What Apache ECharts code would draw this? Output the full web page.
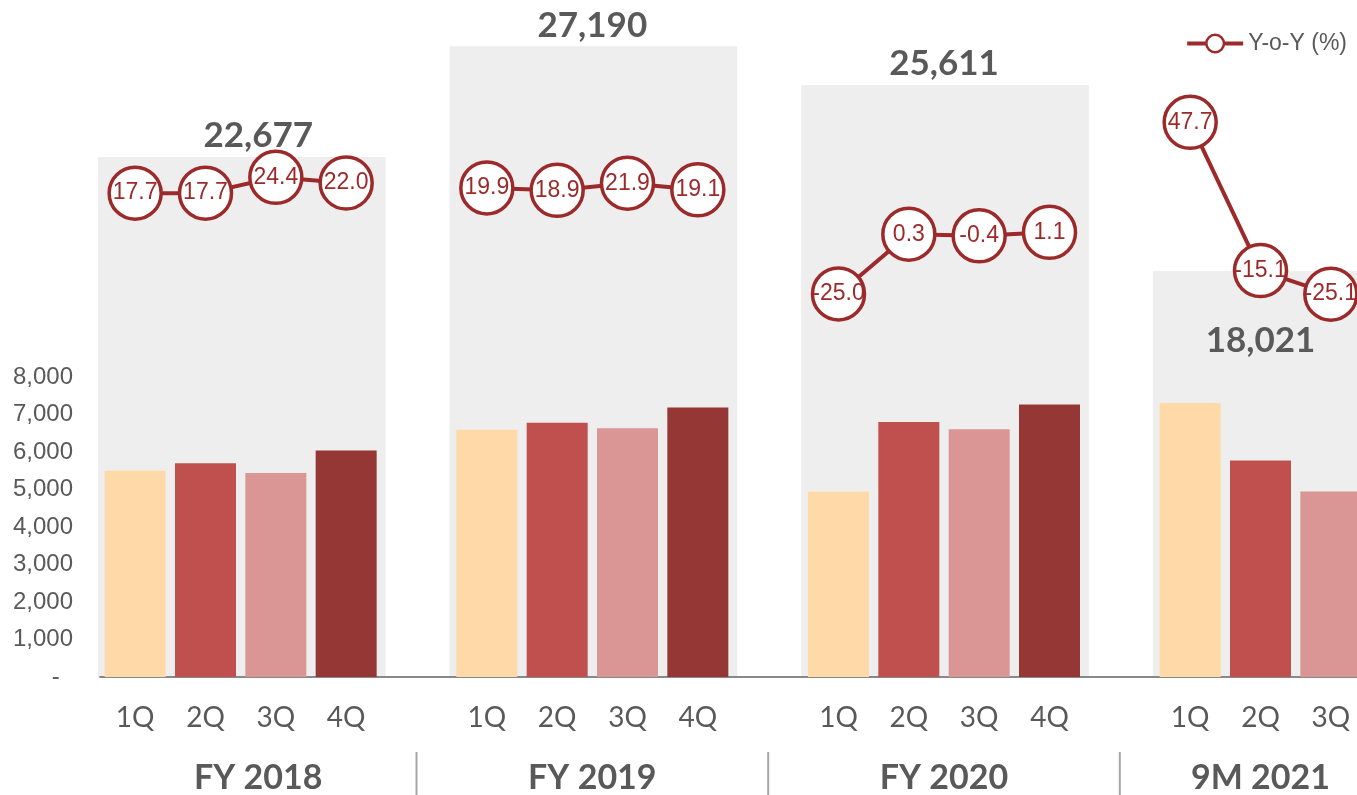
<!DOCTYPE html>
<html><head><meta charset="utf-8">
<script src="https://cdn.jsdelivr.net/npm/echarts@6/dist/echarts.min.js"></script>
<style>html,body{margin:0;padding:0;background:#fff}#c{width:1357px;height:795px}</style>
</head><body><div id="c"></div>
<script>
// ---- data ----
const groupNames = ['FY 2018', 'FY 2019', 'FY 2020', '9M 2021'];
const groupTotals = [22677, 27190, 25611, 18021];
const quarterLabels = ['1Q', '2Q', '3Q', '4Q'];
const fy2018 = [5500, 5700, 5440, 6037];
const fy2019 = [6595, 6777, 6631, 7190];
const fy2020 = [4946, 6797, 6604, 7269];
const m9y2021 = [7305, 5771, 4946];
const yoy2018 = [17.7, 17.7, 24.4, 22.0];
const yoy2019 = [19.9, 18.9, 21.9, 19.1];
const yoy2020 = [-25.0, 0.3, -0.4, 1.1];
const yoy2021 = [47.7, -15.1, -25.1];
const yTickMax = 8000, yTickStep = 1000;
const seriesName = 'Y-o-Y (%)';

// ---- styling ----
const quarterColors = ['#FFD9A7', '#C0504D', '#DA9694', '#953735'];
const lineColor = '#9C2A2A';
const textColor = '#595959';

// ---- build ----
const groupValues = [fy2018, fy2019, fy2020, m9y2021];
const groupYoy = [yoy2018, yoy2019, yoy2020, yoy2021];
const categories = [], barData = [], lineData = [], groupSpans = [];
groupValues.forEach((vals, g) => {
  if (g > 0) { categories.push(''); barData.push('-'); lineData.push('-'); }
  const start = categories.length;
  vals.forEach((v, q) => {
    categories.push(quarterLabels[q]);
    barData.push({ value: v, itemStyle: { color: quarterColors[q] } });
    lineData.push(groupYoy[g][q]);
  });
  groupSpans.push([start, categories.length - 1, groupTotals[g], g]);
});

const chart = echarts.init(document.getElementById('c'), null, { renderer: 'canvas' });
chart.setOption({
  animation: false,
  backgroundColor: '#ffffff',
  grid: { left: 100, width: 1266, top: 377, bottom: 118, containLabel: false, outerBoundsMode: 'none' },
  legend: {
    data: [seriesName], right: 10, top: 32, padding: 0, itemWidth: 56, itemHeight: 22,
    lineStyle: { width: 4, color: lineColor },
    itemStyle: { color: '#ffffff', borderColor: lineColor, borderWidth: 2.5 },
    textStyle: { color: textColor, fontSize: 23, fontFamily: 'Liberation Sans' }
  },
  xAxis: [{
    type: 'category', data: categories, boundaryGap: true,
    axisTick: { show: false },
    axisLine: { show: true, lineStyle: { color: '#888888', width: 2 } },
    axisLabel: { interval: 0, margin: 27, color: textColor, fontSize: 28, fontFamily: 'Lato' }
  }],
  yAxis: [{
    type: 'value', min: 0, max: yTickMax, interval: yTickStep,
    splitLine: { show: false }, axisLine: { show: false }, axisTick: { show: false },
    axisLabel: {
      margin: 27, color: textColor, fontSize: 24, fontFamily: 'Liberation Sans',
      formatter: v => v === 0 ? '-  ' : v.toLocaleString('en-US')
    }
  }, {
    type: 'value', show: false, min: 1460, max: 13700, splitLine: { show: false }
  }, {
    type: 'value', show: false, min: -187.3, max: -60.2, splitLine: { show: false }
  }],
  series: [{
    type: 'custom', xAxisIndex: 0, yAxisIndex: 1, z: 0, silent: true, clip: false,
    data: groupSpans,
    encode: { x: [0, 1], y: 2 },
    renderItem(params, api) {
      const s = api.value(0), e = api.value(1), total = api.value(2), g = api.value(3);
      const band = api.size([1, 0])[0];
      const pS = api.coord([s, total]), pE = api.coord([e, total]);
      const cs = params.coordSys;
      const bottom = cs.y + cs.height;
      const top = pS[1];
      const x0 = pS[0] - 0.53 * band, x1 = pE[0] + 0.56 * band;
      const lo = g === 0 ? pS[0] - band / 2 : pS[0] - band;
      const hi = pE[0] + band;
      const mid = (lo + hi) / 2;
      const last = g === groupTotals.length - 1;
      const children = [
        { type: 'rect', shape: { x: x0, y: top, width: x1 - x0, height: bottom - top }, style: { fill: '#EEEEEE' } },
        { type: 'text', style: { text: total.toLocaleString('en-US'), x: mid, y: last ? top + 70 : top - 21,
          align: 'center', verticalAlign: 'middle', font: 'bold 35px Lato', fill: textColor } },
        { type: 'text', style: { text: groupNames[g], x: mid, y: bottom + 101,
          align: 'center', verticalAlign: 'middle', font: 'bold 34px Lato', fill: textColor } }
      ];
      if (g > 0) {
        children.push({ type: 'line', shape: { x1: lo, y1: bottom + 75, x2: lo, y2: bottom + 125 },
          style: { stroke: '#A6A6A6', lineWidth: 2 } });
      }
      return { type: 'group', children };
    }
  }, {
    type: 'bar', xAxisIndex: 0, yAxisIndex: 0, z: 2, barWidth: 61, data: barData
  }, {
    type: 'line', name: seriesName, xAxisIndex: 0, yAxisIndex: 2, z: 5, clip: false,
    data: lineData, connectNulls: false,
    symbol: 'circle', symbolSize: 52,
    lineStyle: { color: lineColor, width: 4 },
    itemStyle: { color: '#ffffff', borderColor: lineColor, borderWidth: 3.5 },
    label: {
      show: true, position: 'inside', color: lineColor, fontSize: 23, fontFamily: 'Liberation Sans',
      formatter: p => Number(p.value).toFixed(1)
    }
  }]
});
</script>
</body></html>
